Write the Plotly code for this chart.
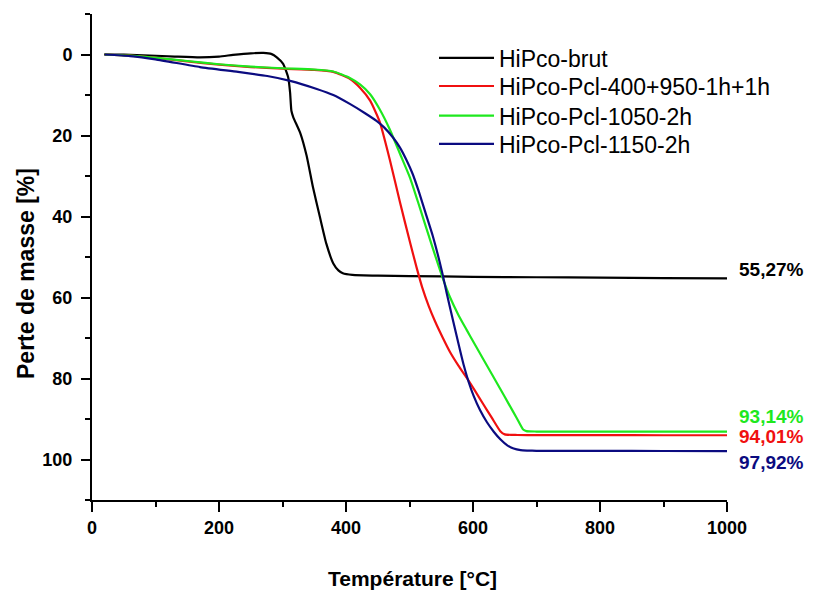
import plotly.graph_objects as go

# ---- data ----
names = ["HiPco-brut", "HiPco-Pcl-400+950-1h+1h", "HiPco-Pcl-1050-2h", "HiPco-Pcl-1150-2h"]
colors = ["#000000", "#f01010", "#1ee81e", "#0b0b80"]

t_brut = [19, 50, 91, 130, 170, 200, 222, 250, 270, 283, 291, 301, 309, 312, 314, 317, 328, 338, 348, 359,
          369, 380, 388, 395, 410, 450, 500, 600, 700, 800, 900, 1000]
m_brut = [0, 0.05, 0.25, 0.5, 0.7, 0.5, 0.1, -0.3, -0.4, -0.1, 0.7, 2.3, 5.7, 9.5, 13.9, 15.5, 19.4, 25, 32.8, 40.2,
          46.7, 51.6, 53.3, 54.0, 54.4, 54.6, 54.7, 54.9, 55.0, 55.1, 55.2, 55.27]

t_400 = [20, 60, 100, 150, 200, 250, 300, 350, 380, 406, 422, 438, 453, 469, 485, 501, 511, 520, 530, 540,
         552, 564, 577, 590, 603, 616, 630, 643, 650, 670, 700, 800, 900, 1000]
m_400 = [0, 0.3, 0.8, 1.7, 2.5, 3.1, 3.5, 3.8, 4.3, 6.0, 8.2, 11.4, 16.6, 26, 36.5, 46.5, 52.5, 57.5, 62, 65.8,
         69.8, 73.5, 76.8, 79.8, 83, 86.3, 89.8, 93, 93.8, 93.95, 94.0, 94.0, 94.01, 94.01]

t_1050 = [20, 60, 100, 150, 200, 250, 300, 350, 380, 406, 422, 438, 453, 469, 485, 501, 516, 537, 553, 564,
          577, 590, 603, 616, 630, 643, 656, 669, 679, 684, 700, 800, 900, 1000]
m_1050 = [0, 0.3, 0.8, 1.6, 2.4, 3.0, 3.4, 3.7, 4.2, 5.8, 7.4, 9.8, 13.5, 18.5, 24.5, 30.5, 37.7, 48, 55.5, 60,
          64.3, 68, 71.6, 75.2, 79, 82.6, 86.2, 89.8, 92.6, 93.0, 93.1, 93.12, 93.13, 93.14]

t_1150 = [20, 60, 100, 170, 230, 276, 312, 354, 380, 406, 430, 448, 460, 474, 485, 495, 505, 515, 525, 537,
          551, 558, 569, 578, 585, 593, 601, 611, 622, 633, 643, 654, 664, 675, 685, 700, 800, 900, 1000]
m_1150 = [0, 0.4, 1.2, 3.1, 4.3, 5.3, 6.5, 8.5, 10, 12.2, 14.5, 16.4, 18.0, 20.5, 23, 26, 29.5, 34, 39, 45,
          53.5, 58.5, 66, 72, 76.5, 80.8, 84.3, 87.8, 90.8, 93.2, 95, 96.5, 97.3, 97.7, 97.8, 97.85, 97.88, 97.9, 97.92]

final_labels = ["55,27%", "93,14%", "94,01%", "97,92%"]
label_y = [53.2, 89.5, 94.4, 100.8]
label_colors = ["#000000", "#1ee81e", "#f01010", "#0b0b80"]

x_ticks = [0, 200, 400, 600, 800, 1000]
y_ticks = [0, 20, 40, 60, 80, 100]

FONT = "Liberation Sans, Arial, sans-serif"

fig = go.Figure()
series = [(t_brut, m_brut), (t_400, m_400), (t_1050, m_1050), (t_1150, m_1150)]
legend_ids = ["legend", "legend2", "legend3", "legend4"]
for (t, m), name, c, lg in zip(series, names, colors, legend_ids):
    fig.add_trace(go.Scatter(x=t, y=m, mode="lines", name=name, legend=lg,
                             line=dict(color=c, width=2.2, shape="spline", smoothing=0.5)))

for txt, yv, c in zip(final_labels, label_y, label_colors):
    fig.add_annotation(x=1.0155, y=yv, xref="paper", yref="y", text=txt, showarrow=False,
                       xanchor="left", yanchor="middle",
                       font=dict(family=FONT, size=19, color=c, weight="bold"))

fig.add_annotation(x=0.505, y=-0.162, xref="paper", yref="paper", text="Température [°C]",
                   showarrow=False, xanchor="center", yanchor="middle",
                   font=dict(family=FONT, size=21, color="black", weight="bold"))
fig.add_annotation(x=-0.104, y=0.467, xref="paper", yref="paper", text="Perte de masse [%]",
                   showarrow=False, xanchor="center", yanchor="middle", textangle=-90,
                   font=dict(family=FONT, size=23, color="black", weight="bold"))

axis_common = dict(showgrid=False, zeroline=False, showline=True, linecolor="black", linewidth=2,
                   ticks="outside", tickcolor="black", tickwidth=2,
                   tickfont=dict(family=FONT, size=18, color="black", weight="bold"))

fig.update_xaxes(range=[0, 1000], tickvals=x_ticks, ticklen=10,
                 minor=dict(dtick=100, ticklen=5, ticks="outside", tickcolor="black", tickwidth=2),
                 **axis_common)
fig.update_yaxes(range=[110, -10], tickvals=y_ticks, ticklen=9, ticklabelstandoff=5,
                 minor=dict(tick0=10, dtick=20, ticklen=5, ticks="outside", tickcolor="black", tickwidth=2),
                 **axis_common)

legend_y = [0.954, 0.896, 0.835, 0.777]
leg_common = dict(x=0.5386, xanchor="left", yanchor="top", bgcolor="rgba(0,0,0,0)",
                  font=dict(family=FONT, size=23, color="black"), itemwidth=55)

fig.update_layout(
    width=805, height=584,
    margin=dict(l=84, r=86, t=6, b=92),
    paper_bgcolor="white", plot_bgcolor="white",
    showlegend=True,
    legend=dict(y=legend_y[0], **leg_common),
    legend2=dict(y=legend_y[1], **leg_common),
    legend3=dict(y=legend_y[2], **leg_common),
    legend4=dict(y=legend_y[3], **leg_common),
)

fig.write_html("out.html")
